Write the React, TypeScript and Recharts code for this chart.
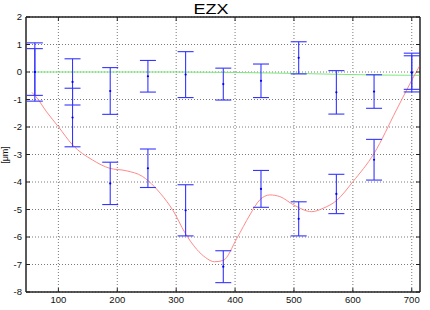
import React from "react";
import {
  ComposedChart,
  Line,
  XAxis,
  YAxis,
  CartesianGrid,
  ErrorBar,
  ReferenceArea,
} from "recharts";

// Measurement positions
const positions = [60, 124, 188, 252, 316, 380, 444, 508, 572, 636, 700];

// Upper series (near zero)
const upperValues = [0, -0.36, -0.69, -0.155, -0.095, -0.44, -0.32, 0.515, -0.74, -0.71, -0.02];
const upperErrors = [1.06, 0.84, 0.85, 0.575, 0.835, 0.58, 0.61, 0.585, 0.79, 0.61, 0.705];

// Lower series
const lowerValues = [0, -1.655, -4.05, -3.5, -5.03, -7.08, -4.25, -5.34, -4.435, -3.19, -0.02];
const lowerErrors = [0.85, 1.065, 0.77, 0.7, 0.93, 0.58, 0.67, 0.62, 0.715, 0.74, 0.61];

// Red fitted curve
const redX = [55, 62, 80, 100, 124, 158, 187, 215, 243, 263, 273, 295, 315, 335, 350, 365, 380, 403, 425, 442, 459, 476, 500, 530, 550, 572, 600, 636, 674, 700, 714];
const redY = [-0.74, -0.9, -1.45, -1.99, -2.65, -3.2, -3.5, -3.59, -3.8, -4.17, -4.41, -5.05, -5.85, -6.45, -6.75, -6.9, -6.85, -6.05, -5.2, -4.65, -4.47, -4.53, -4.84, -5.08, -4.95, -4.68, -3.99, -2.96, -1.38, -0.3, 0.25];

// Green fitted line
const greenX = [58, 300, 500, 640, 714];
const greenY = [0, 0, -0.05, -0.11, -0.12];

const xTicks = [100, 200, 300, 400, 500, 600, 700];
const yTicks = [-8, -7, -6, -5, -4, -3, -2, -1, 0, 1, 2];
const xDomain = [45, 714];
const yDomain = [-8, 2];

const upperData = positions.map((x, i) => ({ x, y: upperValues[i], err: upperErrors[i] }));
const lowerData = positions.map((x, i) => ({ x, y: lowerValues[i], err: lowerErrors[i] }));
const redData = redX.map((x, i) => ({ x, y: redY[i] }));
const greenData = greenX.map((x, i) => ({ x, y: greenY[i] }));

const FONT = "'Liberation Sans', Arial, sans-serif";
const BLUE = "#3535ff";

export default function App() {
  return (
    <div style={{ position: "absolute", left: 0, top: 0, width: 430, height: 310, background: "#fff" }}>
      <ComposedChart
        width={430}
        height={310}
        margin={{ top: 16, right: 9, bottom: 0, left: 0 }}
        style={{ fontFamily: FONT }}
      >
        <CartesianGrid
          xAxisId="b"
          yAxisId="l"
          stroke="#7a7a7a"
          strokeDasharray="1 2"
          horizontalValues={yTicks}
          verticalValues={xTicks}
        />
        <XAxis
          xAxisId="b"
          dataKey="x"
          type="number"
          domain={xDomain}
          ticks={xTicks}
          allowDataOverflow
          height={18}
          tickSize={-4}
          tickMargin={8}
          stroke="#222"
          tick={{ fontSize: 9.5, fill: "#111", fontFamily: FONT }}
        />
        <XAxis
          xAxisId="t"
          orientation="top"
          dataKey="x"
          type="number"
          domain={xDomain}
          ticks={xTicks}
          allowDataOverflow
          height={1}
          tickSize={-4}
          stroke="#222"
          tickFormatter={() => ""}
        />
        <YAxis
          yAxisId="l"
          type="number"
          domain={yDomain}
          ticks={yTicks}
          allowDataOverflow
          width={26}
          tickSize={-4}
          tickMargin={8}
          stroke="#222"
          tick={{ fontSize: 9.5, fill: "#111", fontFamily: FONT }}
        />
        <YAxis
          yAxisId="r"
          orientation="right"
          type="number"
          domain={yDomain}
          ticks={yTicks}
          allowDataOverflow
          width={1}
          tickSize={-4}
          stroke="#222"
          tickFormatter={() => ""}
        />
        <ReferenceArea
          xAxisId="b"
          yAxisId="l"
          x1={xDomain[0]}
          x2={xDomain[1]}
          y1={yDomain[0]}
          y2={yDomain[1]}
          fill="none"
          stroke="#222"
          strokeWidth={1}
          fillOpacity={0}
          ifOverflow="extendDomain"
        />
        <Line
          xAxisId="t"
          yAxisId="r"
          data={greenData}
          dataKey="y"
          type="monotone"
          stroke="#7de87d"
          strokeWidth={1}
          dot={false}
          activeDot={false}
          isAnimationActive={false}
        />
        <Line
          xAxisId="b"
          yAxisId="l"
          data={redData}
          dataKey="y"
          type="monotone"
          stroke="#ff8a8a"
          strokeWidth={1}
          dot={false}
          activeDot={false}
          isAnimationActive={false}
        />
        <Line
          xAxisId="b"
          yAxisId="l"
          data={upperData}
          dataKey="y"
          stroke="none"
          dot={{ r: 1.1, fill: "#0000ee", stroke: "none" }}
          activeDot={false}
          isAnimationActive={false}
        >
          <ErrorBar dataKey="err" width={8} stroke={BLUE} strokeWidth={1.1} direction="y" />
        </Line>
        <Line
          xAxisId="b"
          yAxisId="l"
          data={lowerData}
          dataKey="y"
          stroke="none"
          dot={{ r: 1.1, fill: "#0000ee", stroke: "none" }}
          activeDot={false}
          isAnimationActive={false}
        >
          <ErrorBar dataKey="err" width={8} stroke={BLUE} strokeWidth={1.1} direction="y" />
        </Line>
        <text x={211} y={14} textAnchor="middle" fontSize={14} fontFamily={FONT} fill="#000" textLength={35} lengthAdjust="spacingAndGlyphs">
          EZX
        </text>
        <text
          x={0}
          y={0}
          transform="translate(8,155) rotate(-90)"
          textAnchor="middle"
          fontSize={9}
          fontFamily={FONT}
          fill="#111"
        >
          [μm]
        </text>
      </ComposedChart>
    </div>
  );
}
